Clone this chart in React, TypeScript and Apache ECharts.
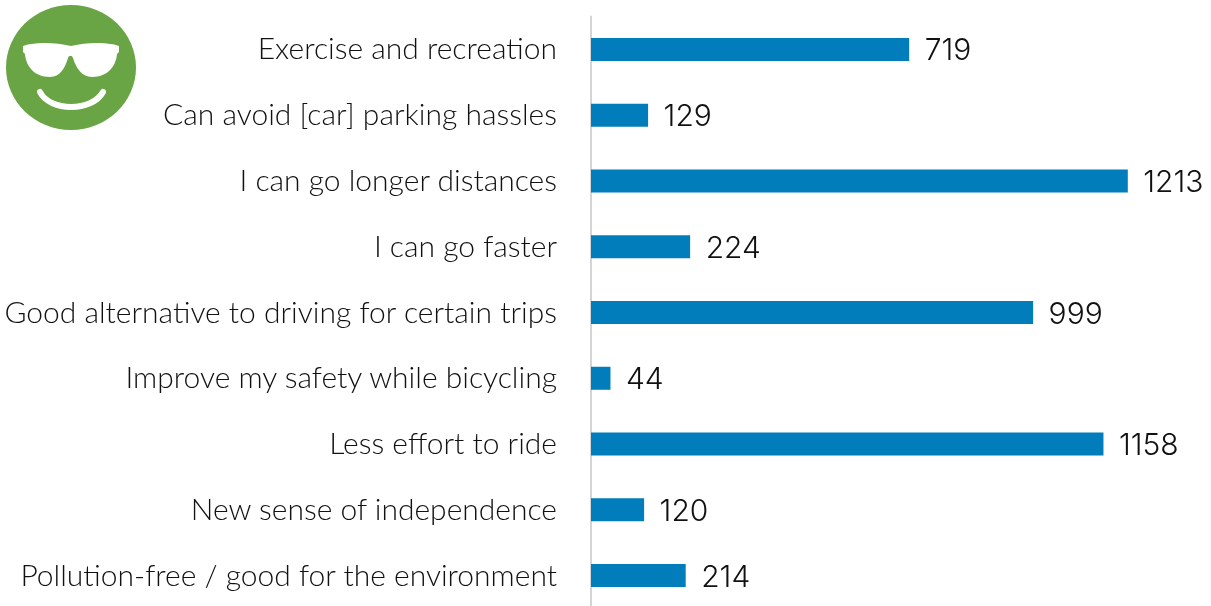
import React, { useEffect, useRef } from "react";
import * as echarts from "echarts";

const categories = [
  "Exercise and recreation",
  "Can avoid [car] parking hassles",
  "I can go longer distances",
  "I can go faster",
  "Good alternative to driving for certain trips",
  "Improve my safety while bicycling",
  "Less effort to ride",
  "New sense of independence",
  "Pollution-free / good for the environment",
];
const values = [719, 129, 1213, 224, 999, 44, 1158, 120, 214];

const GLASSES =
  "M23 46C30 43 52 41 71 46C90 41 112 43 119 46L119 52L117 54C116 66 108 77 92 77C82 77 76 68 73 58C72 55 69 55 68 58C65 68 60 77 50 77C34 77 26 66 25 54L23 52Z";
const SMILE = "M40 92C50 112 92 112 103 92";
echarts.graphic.registerShape("glasses", echarts.graphic.extendPath(GLASSES, {}) as any);
echarts.graphic.registerShape("smile", echarts.graphic.extendPath(SMILE, {}) as any);

export default function App() {
  const ref = useRef<HTMLDivElement>(null);
  useEffect(() => {
    const chart = echarts.init(ref.current!, null, { renderer: "svg" });
    chart.setOption({
      animation: false,
      grid: { left: 591, width: 620, top: 16.5, height: 592, containLabel: false },
      xAxis: { type: "value", min: 0, max: 1401, show: false },
      yAxis: {
        type: "category",
        inverse: true,
        offset: 1,
        data: categories,
        axisTick: { show: false },
        axisLine: { show: true, lineStyle: { color: "#d4d4d4", width: 2 } },
        axisLabel: { color: "#111", fontFamily: "Lato", fontWeight: 300, fontSize: 30, margin: 33, verticalAlign: "bottom", lineHeight: 4 },
      },
      series: [
        {
          type: "bar",
          data: values,
          barWidth: 23,
          itemStyle: { color: "#007dba" },
          label: { show: true, position: "right", distance: 15.5, color: "#111", fontFamily: "Inter", fontWeight: 300, fontSize: 30 },
        },
      ],
      graphic: [
        { type: "ellipse", shape: { cx: 71, cy: 67.5, rx: 65, ry: 62.5 }, style: { fill: "#69a544" } },
        { type: "glasses", style: { fill: "#fff" } },
        { type: "smile", style: { stroke: "#fff", lineWidth: 6, lineCap: "round", fill: "none" } },
      ],
    });
    return () => chart.dispose();
  }, []);
  return <div ref={ref} style={{ position: "fixed", left: 0, top: 0, width: 1211, height: 612 }} />;
}
